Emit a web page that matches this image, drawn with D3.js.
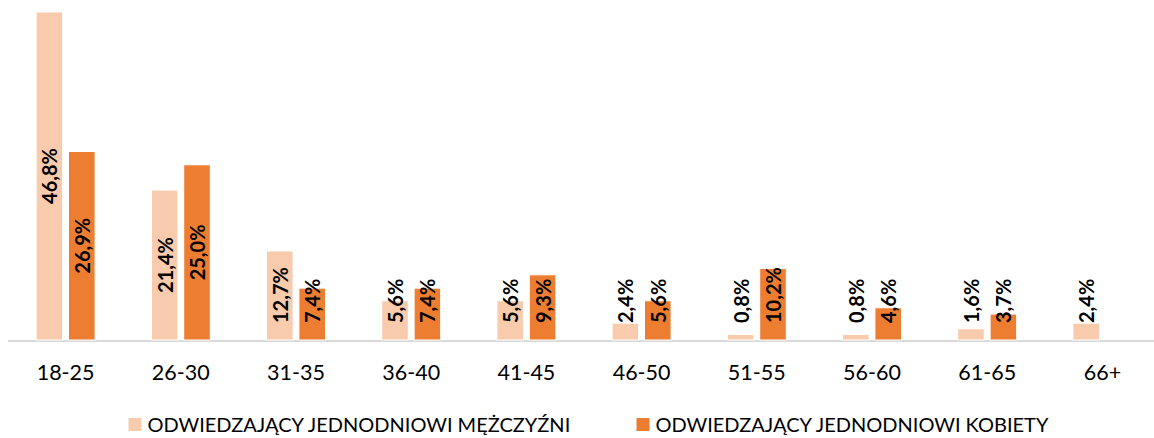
<!DOCTYPE html>
<html>
<head>
<meta charset="utf-8">
<script src="https://cdn.jsdelivr.net/npm/d3@7"></script>
<style>
  html, body { margin: 0; padding: 0; background: #fff; }
  svg { display: block; }
</style>
</head>
<body>
<svg id="chart" width="1154" height="438"></svg>
<script>
const categories = ["18-25", "26-30", "31-35", "36-40", "41-45", "46-50", "51-55", "56-60", "61-65", "66+"];
const seriesNames = ["ODWIEDZAJĄCY JEDNODNIOWI MĘŻCZYŹNI", "ODWIEDZAJĄCY JEDNODNIOWI KOBIETY"];
const menValues = [46.8, 21.4, 12.7, 5.6, 5.6, 2.4, 0.8, 0.8, 1.6, 2.4];
const womenValues = [26.9, 25.0, 7.4, 7.4, 9.3, 5.6, 10.2, 4.6, 3.7, null];
const colors = ["#F8CBAD", "#ED7D31"];

const svg = d3.select("#chart");
const baseY = 340;
const fontFamily = "Lato, 'Open Sans', sans-serif";

const x0 = d3.scaleBand().domain(categories).range([8, 1160]).paddingInner(0.488).paddingOuter(0.244);
const x1 = d3.scaleBand().domain([0, 1]).range([0, x0.bandwidth()]).paddingInner(0.18);
const y = d3.scaleLinear().domain([0, 46.8]).range([baseY, 12]);

// axis line
const xAxis = d3.axisBottom(x0).tickSize(0).tickPadding(0);
const gx = svg.append("g").attr("transform", `translate(0,${baseY + 1})`).call(xAxis);
gx.select(".domain").attr("d", "M8,0H1160").attr("stroke", "#D9D9D9").attr("stroke-width", 2);
gx.selectAll(".tick text")
  .attr("y", 39)
  .attr("dy", null)
  .attr("font-family", fontFamily)
  .attr("font-size", 21.5)
  .attr("fill", "#000");

const data = [];
categories.forEach((c, i) => {
  [menValues[i], womenValues[i]].forEach((v, s) => {
    if (v !== null && v !== undefined) data.push({ c, s, v });
  });
});

const bars = svg.append("g");
bars.selectAll("rect").data(data).join("rect")
  .attr("x", d => x0(d.c) + x1(d.s))
  .attr("y", d => y(d.v))
  .attr("width", x1.bandwidth())
  .attr("height", d => baseY - y(d.v))
  .attr("fill", d => colors[d.s])
  .attr("stroke", "#fff")
  .attr("stroke-width", 1);

const fmt = v => v.toFixed(1).replace(".", ",") + "%";
const labels = svg.append("g");
labels.selectAll("text").data(data).join("text")
  .text(d => fmt(d.v))
  .attr("font-family", fontFamily)
  .attr("font-weight", "bold")
  .attr("font-size", 20)
  .attr("fill", "#000")
  .attr("text-anchor", "start")
  .attr("dominant-baseline", "central")
  .each(function(d) {
    const len = this.getComputedTextLength();
    const cx = x0(d.c) + x1(d.s) + x1.bandwidth() / 2;
    const cy = (y(d.v) + baseY) / 2;
    const startY = Math.min(cy + len / 2, 323);
    d3.select(this).attr("transform", `translate(${cx},${startY}) rotate(-90)`);
  });

// legend
const legendItems = [
  { name: seriesNames[0], color: colors[0], x: 128.5 },
  { name: seriesNames[1], color: colors[1], x: 636.5 }
];
const lg = svg.append("g");
legendItems.forEach(it => {
  lg.append("rect").attr("x", it.x).attr("y", 418).attr("width", 13).attr("height", 13).attr("fill", it.color);
  lg.append("text").attr("x", it.x + 19).attr("y", 432)
    .attr("font-family", fontFamily).attr("font-size", 20).attr("fill", "#000")
    .text(it.name);
});
</script>
</body>
</html>
